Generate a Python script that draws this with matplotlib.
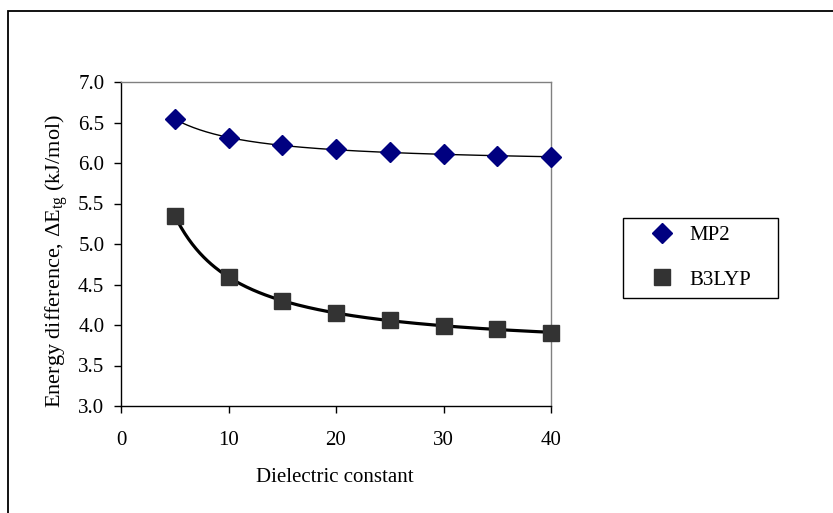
import numpy as np
import matplotlib
matplotlib.use("Agg")
import matplotlib.pyplot as plt
from matplotlib.patches import Rectangle

plt.rcParams['font.family'] = ['Liberation Serif', 'DejaVu Serif']
plt.rcParams['mathtext.fontset'] = 'custom'
plt.rcParams['mathtext.rm'] = 'Liberation Serif'
plt.rcParams['mathtext.it'] = 'Liberation Serif'

dielectric = [5, 10, 15, 20, 25, 30, 35, 40]
mp2 = [6.54, 6.31, 6.22, 6.17, 6.13, 6.11, 6.09, 6.07]
b3lyp = [5.35, 4.59, 4.30, 4.15, 4.06, 3.99, 3.95, 3.90]
xticks = [0, 10, 20, 30, 40]
yticks = [3.0, 3.5, 4.0, 4.5, 5.0, 5.5, 6.0, 6.5, 7.0]

FS = 15
W, H = 833, 513
fig = plt.figure(figsize=(W / 100, H / 100), dpi=100)
ax = fig.add_axes([121 / W, 1 - 406 / H, (551 - 121) / W, (406 - 82) / H])

# figure frame (only left and top visible)
fig.patches.append(Rectangle((8 / W, -0.1), 1.2, 1 - 11 / H + 0.1, transform=fig.transFigure,
                             fill=False, edgecolor='black', linewidth=1.3))

# smooth trend curves: least-squares quadratic in 1/x fitted to the data
x = np.array(dielectric, dtype=float)
xs = np.linspace(5, 40, 300)
for vals, lw in ((mp2, 1.0), (b3lyp, 2.3)):
    coef = np.polyfit(1.0 / x, vals, 2)
    ax.plot(xs, np.polyval(coef, 1.0 / xs), color='black', lw=lw, zorder=3, clip_on=False)

ax.plot(dielectric, mp2, linestyle='none', marker='D', markersize=10.5,
        color='#000080', markeredgecolor='#000080', label='MP2', zorder=4, clip_on=False)
ax.plot(dielectric, b3lyp, linestyle='none', marker='s', markersize=11,
        color='#333333', markeredgecolor='#333333', label='B3LYP', zorder=4, clip_on=False)

ax.set_xlim(0, 40)
ax.set_ylim(3.0, 7.0)
ax.set_xticks(xticks)
ax.set_xticklabels([str(t) for t in xticks])
ax.set_yticks(yticks)
ax.set_yticklabels([f"{t:.1f}" for t in yticks])
ax.tick_params(axis='both', direction='out', length=5, width=1, labelsize=FS, color='black')
ax.tick_params(axis='x', pad=13)
ax.tick_params(axis='y', pad=7)
for s in ('top', 'right'):
    ax.spines[s].set_color('#808080')
for s in ('left', 'bottom'):
    ax.spines[s].set_color('black')
for s in ax.spines.values():
    s.set_linewidth(1.0)

fig.text(335 / W, 1 - 477 / H, 'Dielectric constant', fontsize=FS, ha='center', va='center')
fig.text(57 / W, 1 - 261 / H, r'Energy difference, $\Delta$E$_{\rm tg}$ (kJ/mol)', fontsize=16,
         rotation=90, ha='center', va='center')

# legend: entries without frame, frame drawn separately
leg = fig.legend(loc='center left', bbox_to_anchor=(651.6 / W, 1 - 257.5 / H), frameon=False,
                 fontsize=FS, handletextpad=0.8, labelspacing=1.2, borderpad=0,
                 handlelength=1.0, borderaxespad=0)
fig.patches.append(Rectangle((623 / W, 1 - 298 / H), (778 - 623) / W, (298 - 218) / H,
                             transform=fig.transFigure, fill=False, edgecolor='black', linewidth=1.0))

fig.savefig('out.png', dpi=100, facecolor='white')
